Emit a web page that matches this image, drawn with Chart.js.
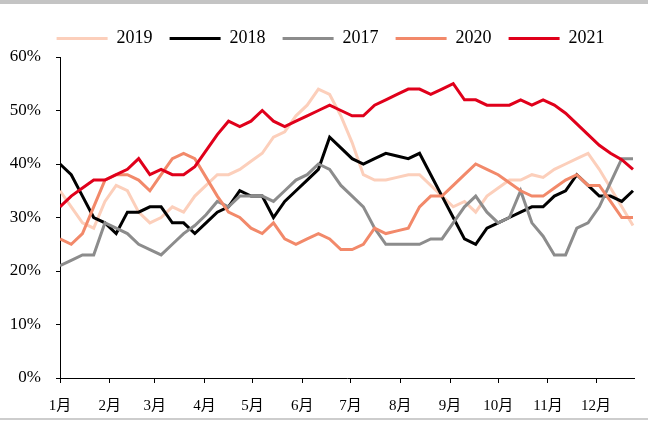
<!DOCTYPE html>
<html><head><meta charset="utf-8">
<script src="https://cdn.jsdelivr.net/npm/chart.js@4.4.0/dist/chart.umd.min.js"></script>
<style>
html,body{margin:0;padding:0;background:#fff;}
#wrap{position:relative;width:648px;height:421px;overflow:hidden;background:#fff;}
#topbar{position:absolute;left:0;top:0;width:648px;height:4px;background:#c4c4c4;}
#botline{position:absolute;left:0;top:418px;width:648px;height:2px;background:#cdcdcd;}
canvas{position:absolute;left:0;top:0;}
</style></head><body>
<div id="wrap"><canvas id="c" width="648" height="421"></canvas><div id="topbar"></div><div id="botline"></div></div>
<script>
// week positions (day of year) and month ticks
const weekDays = [0,7,14,21,28,35,42,49,56,63,70,77,84,91,98,105,112,119,126,133,140,147,154,161,168,175,182,189,196,203,210,217,224,231,238,245,252,259,266,273,280,287,294,301,308,315,322,329,336,343,350,357];
const monthDays = [0,31,59,90,120,151,181,212,243,273,304,334];
const monthLabels = ['1月','2月','3月','4月','5月','6月','7月','8月','9月','10月','11月','12月'];
const seriesNames = ['2019','2018','2017','2020','2021'];

const s2019 = [35,32,29,28,33,36,35,31,29,30,32,31,34,36,38,38,39,40.5,42,45,46,49,51,54,53,49,44,38,37,37,37.5,38,38,36,34,32,33,31,34,35.5,37,37,38,37.5,39,40,41,42,39,35.5,32,28.5];
const s2018 = [40,38,34,30,29,27,31,31,32,32,29,29,27,29,31,32,35,34,34,30,33,35,37,39,45,43,41,40,41,42,41.5,41,42,38,34,30,26,25,28,29,30,31,32,32,34,35,38,36,34,34,33,35];
const s2017 = [21,22,23,23,29,28,27,25,24,23,25,27,28.5,30.5,33,32,34,34,34,33,35,37,38,40,39,36,34,32,28,25,25,25,25,26,26,29,32,34,31,29,30,35,29,26.5,23,23,28,29,32,36.5,41,41];
const s2020 = [26,25,27,32,37,38,38,37,35,38,41,42,41,37.5,34,31,30,28,27,29,26,25,26,27,26,24,24,25,28,27,27.5,28,32,34,34,36,38,40,39,38,36.5,35,34,34,35.5,37,38,36,36,33,30,30];
const s2021 = [32,34,35.5,37,37,38,39,41,38,39,38,38,39.5,42.5,45.5,48,47,48,50,48,47,48,49,50,51,50,49,49,51,52,53,54,54,53,54,55,52,52,51,51,51,52,51,52,51,49.5,47.5,45.5,43.5,42,40.8,39];
const yTicks = [0,10,20,30,40,50,60];

const colors = ['#FCCFBB','#000000','#8C8C8C','#F2896A','#E0001B'];
const allSeries = [s2019,s2018,s2017,s2020,s2021];
const drawOrder = [5,4,3,2,1];

const FONT = "'Liberation Serif', 'Times New Roman', 'Noto Sans CJK SC', serif";

const datasets = allSeries.map((arr,k)=>({
  label: seriesNames[k],
  data: arr.map((v,i)=>({x: weekDays[i], y: v})),
  borderColor: colors[k],
  backgroundColor: colors[k],
  borderWidth: 3,
  pointRadius: 0,
  pointHoverRadius: 0,
  tension: 0,
  fill: false,
  order: drawOrder[k]
}));

const legendShift = {
  id: 'legendShift',
  afterLayout(chart) { if (chart.legend) { chart.legend.left = 39.6; } }
};

new Chart(document.getElementById('c'), {
  type: 'line',
  data: { datasets },
  plugins: [legendShift],
  options: {
    responsive: false,
    animation: false,
    devicePixelRatio: 1,
    layout: { padding: { left: 0, right: 13.4, top: 12.5, bottom: 0 } },
    plugins: {
      tooltip: { enabled: false },
      legend: {
        display: true,
        position: 'top',
        align: 'start',
        maxHeight: 44.5,
        labels: {
          boxWidth: 51,
          boxHeight: 3,
          padding: 17,
          color: '#000',
          font: { family: FONT, size: 18 },
          generateLabels: (chart) => chart.data.datasets.map((d,i)=>({
            text: d.label,
            fillStyle: d.borderColor,
            strokeStyle: d.borderColor,
            lineWidth: 0,
            hidden: false,
            datasetIndex: i
          }))
        }
      }
    },
    scales: {
      x: {
        type: 'linear',
        min: 0,
        max: 358,
        afterBuildTicks: (s) => { s.ticks = monthDays.map(v=>({value:v})); },
        afterFit: (s) => { s.height = 43; },
        ticks: {
          autoSkip: false,
          maxRotation: 0,
          padding: 14,
          color: '#000',
          font: { family: FONT, size: 15 },
          callback: (v, i) => monthLabels[i]
        },
        grid: { drawOnChartArea: false, drawTicks: true, tickLength: 5, color: '#000' },
        border: { display: true, color: '#000', width: 1 }
      },
      y: {
        min: 0,
        max: 60,
        afterBuildTicks: (s) => { s.ticks = yTicks.map(v=>({value:v})); },
        afterFit: (s) => { s.width = 60; },
        ticks: {
          padding: 15,
          color: '#000',
          font: { family: FONT, size: 17 },
          callback: (v) => v + '%'
        },
        grid: { drawOnChartArea: false, drawTicks: true, tickLength: 4, color: '#000' },
        border: { display: true, color: '#000', width: 1 }
      }
    }
  }
});
</script>
</body></html>
